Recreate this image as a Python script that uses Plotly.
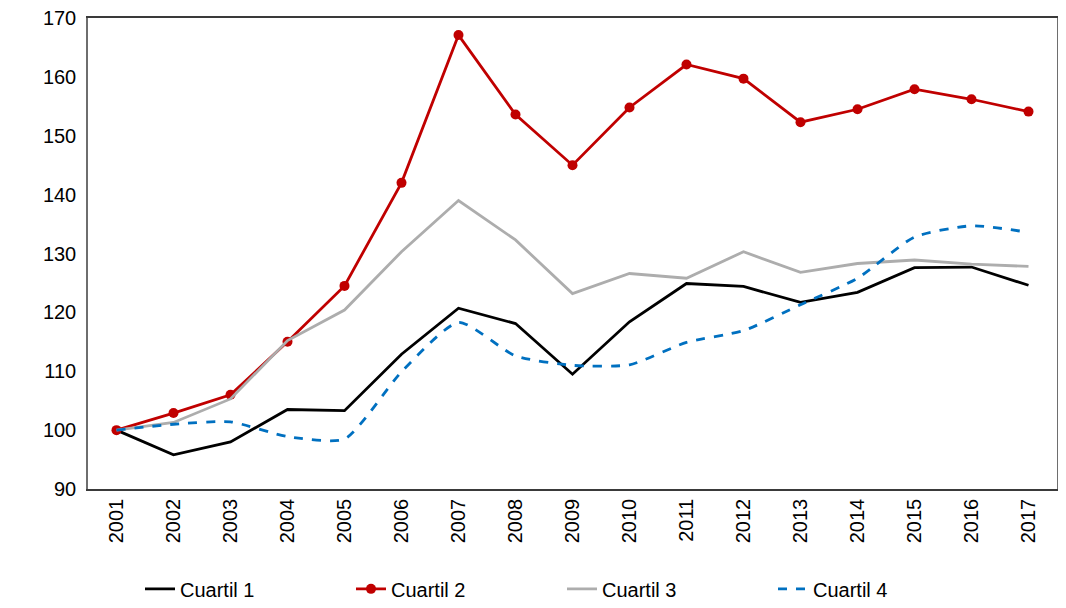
import plotly.graph_objects as go

years = [str(y) for y in range(2001, 2018)]
cuartil1 = [100, 95.8, 98.0, 103.5, 103.3, 112.9, 120.7, 118.1, 109.5, 118.4, 124.9, 124.4, 121.7, 123.4, 127.6, 127.7, 124.6]
cuartil2 = [100, 102.9, 106.0, 115.0, 124.5, 142.0, 167.1, 153.6, 145.0, 154.8, 162.1, 159.7, 152.3, 154.5, 157.9, 156.2, 154.1]
cuartil3 = [100, 101.3, 105.3, 115.2, 120.4, 130.3, 139.0, 132.3, 123.2, 126.6, 125.8, 130.3, 126.8, 128.3, 128.9, 128.2, 127.8]
cuartil4 = [100, 101.0, 101.4, 98.9, 98.5, 109.9, 118.3, 112.6, 111.0, 111.1, 114.9, 116.9, 121.3, 125.8, 132.8, 134.7, 133.6]
y_ticks = [90, 100, 110, 120, 130, 140, 150, 160, 170]

fig = go.Figure()
fig.add_trace(go.Scatter(x=years, y=cuartil1, name="Cuartil 1", mode="lines",
                         line=dict(color="#000000", width=2.8)))
fig.add_trace(go.Scatter(x=years, y=cuartil2, name="Cuartil 2", mode="lines+markers",
                         line=dict(color="#C00000", width=2.8),
                         marker=dict(color="#C00000", size=10)))
fig.add_trace(go.Scatter(x=years, y=cuartil3, name="Cuartil 3", mode="lines",
                         line=dict(color="#ADADAD", width=2.8)))
fig.add_trace(go.Scatter(x=years, y=cuartil4, name="Cuartil 4", mode="lines",
                         line=dict(color="#0070C0", width=2.8, dash="dash", shape="spline", smoothing=0.6)))

fig.update_layout(
    width=1058, height=600,
    margin=dict(l=80, r=9, t=10, b=119, autoexpand=False),
    paper_bgcolor="white", plot_bgcolor="white",
    font=dict(family="Liberation Sans, Arial, sans-serif", size=20, color="#000000"),
    showlegend=True,
    legend=dict(orientation="h", x=(140 - 88) / 969, xanchor="left", y=-0.212, yanchor="middle",
                font=dict(size=20), entrywidth=166, entrywidthmode="pixels", traceorder="normal"),
)
fig.update_xaxes(type="category", range=[-0.5, 16.5], tickangle=-90, automargin=False,
                 showline=True, linecolor="#3a3a3a", linewidth=1.5, mirror=True,
                 showgrid=False, ticks="", tickfont=dict(size=20), ticklabeloverflow="allow")
fig.update_yaxes(range=[90, 170], tickvals=y_ticks, showline=True, linecolor="#6e6e6e",
                 linewidth=1.5, mirror=True, showgrid=False, zeroline=False, ticks="",
                 automargin=False, ticklabelstandoff=6, tickfont=dict(size=20),
                 ticklabeloverflow="allow")

fig.write_html("out.html")
